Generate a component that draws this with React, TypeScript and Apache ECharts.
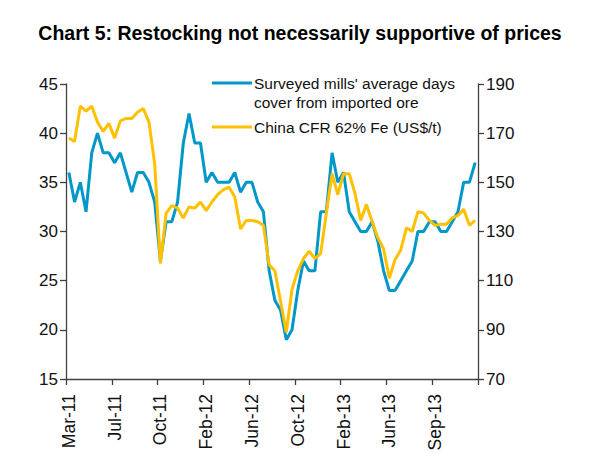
import React, { useEffect, useRef } from "react";
import * as echarts from "echarts";

// Fortnightly survey dates, shown as month-year
const categories: string[] = [
  "Mar-11", "Mar-11", "Apr-11", "Apr-11", "May-11", "May-11", "Jun-11", "Jun-11",
  "Jul-11", "Jul-11", "Aug-11", "Aug-11", "Sep-11", "Sep-11", "Sep-11", "Oct-11",
  "Oct-11", "Nov-11", "Nov-11", "Dec-11", "Dec-11", "Jan-12", "Jan-12", "Feb-12",
  "Feb-12", "Mar-12", "Mar-12", "Apr-12", "Apr-12", "May-12", "May-12", "Jun-12",
  "Jun-12", "Jul-12", "Jul-12", "Aug-12", "Aug-12", "Sep-12", "Sep-12", "Oct-12",
  "Oct-12", "Nov-12", "Nov-12", "Dec-12", "Dec-12", "Jan-13", "Jan-13", "Feb-13",
  "Feb-13", "Mar-13", "Mar-13", "Apr-13", "Apr-13", "May-13", "May-13", "Jun-13",
  "Jun-13", "Jul-13", "Jul-13", "Aug-13", "Aug-13", "Aug-13", "Sep-13", "Sep-13",
  "Sep-13", "Oct-13", "Oct-13", "Nov-13", "Nov-13", "Dec-13", "Dec-13", "Jan-14",
];

// Surveyed mills' average days of cover from imported ore (left axis, days)
const daysCover: number[] = [
  36, 33, 35, 32, 38, 40, 38, 38, 37, 38, 36, 34, 36, 36, 35, 33,
  27, 31, 31, 33, 39, 42, 39, 39, 35, 36, 35, 35, 35, 36, 34, 35,
  35, 33, 32, 26, 23, 22, 19, 20, 24, 27, 26, 26, 32, 32, 38, 35,
  36, 32, 31, 30, 30, 31, 29, 26, 24, 24, 25, 26, 27, 30, 30, 31,
  31, 30, 30, 31, 32, 35, 35, 37,
];

// China CFR 62% Fe iron ore price (right axis, US$/t)
const cfrPrice: number[] = [
  168, 166.6, 181, 179, 181, 174.5, 170.7, 174, 168, 175, 176, 176, 178.5, 180, 174.5, 157.5,
  117, 137.5, 140.5, 139.5, 135.5, 140, 139.5, 142, 138.5, 142, 145, 147, 148, 144, 131, 134.5,
  134.5, 134, 132.5, 116.5, 114, 101.5, 89, 106.5, 114, 119, 122, 119, 121, 137.5, 153.5, 145,
  153.5, 153.5, 145.5, 134.5, 141, 134, 127.5, 123, 111, 118.5, 122.5, 131.5, 130, 138, 137.5, 134.5,
  132.5, 133, 133, 135.5, 136.5, 139, 132.5, 134.5,
];

const seriesNames: string[] = [
  "Surveyed mills' average days\ncover from imported ore",
  "China CFR 62% Fe (US$/t)",
];

const titleText = "Chart 5: Restocking not necessarily supportive of prices";

const BLUE = "#0097c9";
const GOLD = "#ffc000";
const FONT = "'Liberation Sans', Arial, sans-serif";
const AXIS_COLOR = "#404040";

export default function App() {
  const ref = useRef<HTMLDivElement>(null);

  useEffect(() => {
    if (!ref.current) return;
    const chart = echarts.init(ref.current, undefined, { renderer: "svg" });

    const axisLine = { show: true, lineStyle: { color: AXIS_COLOR, width: 1.3 } };
    const axisTick = { show: true, inside: false, length: 6, lineStyle: { color: AXIS_COLOR, width: 1.3 } };
    const axisLabel = { color: "#111", fontSize: 17, fontFamily: FONT };

    chart.setOption({
      animation: false,
      backgroundColor: "#ffffff",
      title: {
        text: titleText,
        left: "center",
        top: 18,
        textStyle: { fontSize: 19.5, fontWeight: "bold", color: "#000", fontFamily: FONT },
      },
      grid: { left: 66, right: 122, top: 84, bottom: 87, containLabel: false },
      xAxis: {
        type: "category",
        data: categories,
        boundaryGap: true,
        axisLine,
        axisTick: { ...axisTick, interval: 7 },
        axisLabel: { ...axisLabel, fontSize: 17.5, rotate: 90, interval: 7, margin: 15 },
        splitLine: { show: false },
      },
      yAxis: [
        {
          type: "value",
          position: "left",
          min: 15,
          max: 45,
          interval: 5,
          axisLine,
          axisTick,
          axisLabel: { ...axisLabel, margin: 8 },
          splitLine: { show: false },
        },
        {
          type: "value",
          position: "right",
          min: 70,
          max: 190,
          interval: 20,
          axisLine,
          axisTick,
          axisLabel: { ...axisLabel, margin: 8 },
          splitLine: { show: false },
        },
      ],
      series: [
        {
          name: seriesNames[0],
          type: "line",
          yAxisIndex: 0,
          data: daysCover,
          symbol: "none",
          lineStyle: { color: BLUE, width: 3 },
          itemStyle: { color: BLUE },
          z: 3,
        },
        {
          name: seriesNames[1],
          type: "line",
          yAxisIndex: 1,
          data: cfrPrice,
          symbol: "none",
          lineStyle: { color: GOLD, width: 3 },
          itemStyle: { color: GOLD },
          z: 4,
        },
      ],
      graphic: [
        {
          type: "line",
          shape: { x1: 212, y1: 83, x2: 252, y2: 83 },
          style: { stroke: BLUE, lineWidth: 3 },
        },
        {
          type: "text",
          x: 254,
          y: 74,
          style: {
            text: seriesNames[0],
            fontSize: 15.5,
            fontFamily: FONT,
            fill: "#111",
            lineHeight: 19,
            verticalAlign: "top",
          },
        },
        {
          type: "line",
          shape: { x1: 212, y1: 127, x2: 252, y2: 127 },
          style: { stroke: GOLD, lineWidth: 3 },
        },
        {
          type: "text",
          x: 254,
          y: 127,
          style: {
            text: seriesNames[1],
            fontSize: 15.5,
            fontFamily: FONT,
            fill: "#111",
            verticalAlign: "middle",
          },
        },
      ],
    });

    return () => chart.dispose();
  }, []);

  return (
    <div
      ref={ref}
      style={{ position: "fixed", left: 0, top: 0, width: 600, height: 466, background: "#fff" }}
    />
  );
}
